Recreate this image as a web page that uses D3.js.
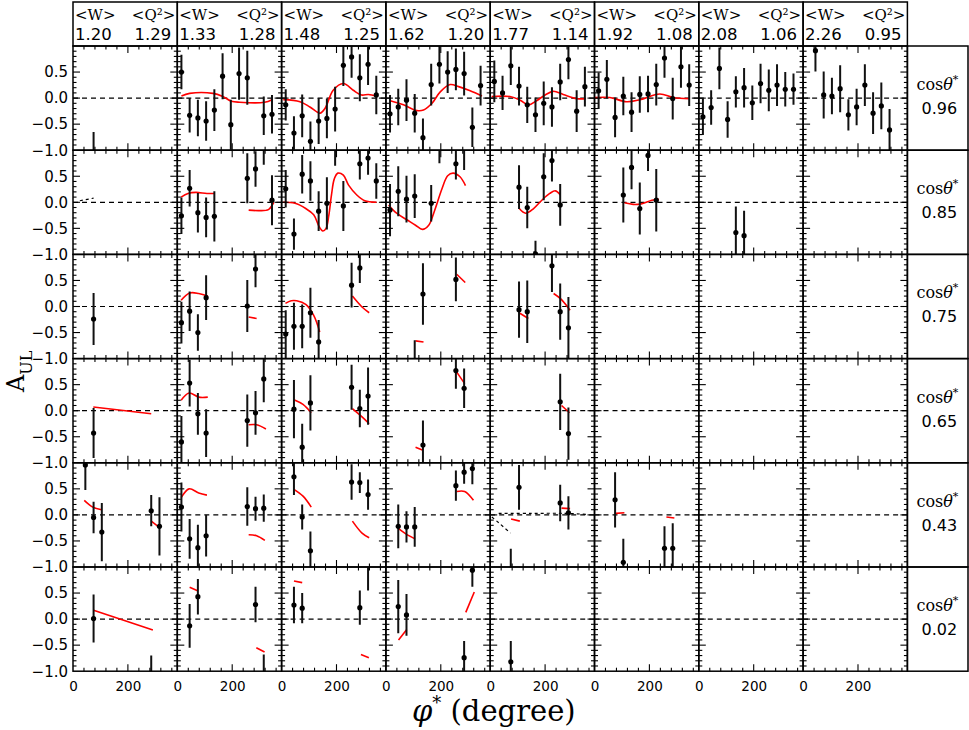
<!DOCTYPE html>
<html lang="en">
<head>
<meta charset="UTF-8">
<title>A_UL vs phi*</title>
<script src="https://d3js.org/d3.v7.min.js"></script>
<style>
  body { margin: 0; background: #fff; }
  text { fill: #000; }
</style>
</head>
<body>
<svg id="chart" width="969" height="730"></svg>
<script>
// kinematic bins (header / right column)
const W = [1.20, 1.33, 1.48, 1.62, 1.77, 1.92, 2.08, 2.26];
const Q2 = [1.29, 1.28, 1.25, 1.20, 1.14, 1.08, 1.06, 0.95];
const cosTheta = [0.96, 0.85, 0.75, 0.65, 0.43, 0.02];

const phiMinorTicks = [40, 80, 120, 160, 240, 280, 320, 360];
const phiMajorTicks = [200];
const phiLabels = [0, 200];
const aMajorTicks = [-0.5, 0, 0.5];
const aMinorTicks = [-0.9, -0.8, -0.7, -0.6, -0.4, -0.3, -0.2, -0.1, 0.1, 0.2, 0.3, 0.4, 0.6, 0.7, 0.8, 0.9];
const aLabels = [-1, -0.5, 0, 0.5];

// measured asymmetry: per column, [phi, A_UL, error]
const aul096 = [
  [[75, -1.15, 0.5]],
  [[15, 0.50, 0.33], [45, -0.33, 0.33], [75, -0.38, 0.35], [105, -0.44, 0.38], [135, -0.23, 0.4], [165, 0.42, 0.44], [195, -0.51, 0.48], [225, 0.47, 0.5], [255, 0.39, 0.52], [315, -0.34, 0.37], [345, -0.31, 0.37]],
  [[15, -0.13, 0.3], [45, -0.67, 0.32], [75, -0.34, 0.41], [105, -0.83, 0.38], [135, -0.44, 0.44], [165, -0.39, 0.38], [195, -0.21, 0.43], [225, 0.63, 0.4], [255, 0.79, 0.4], [285, 0.39, 0.45], [315, 0.65, 0.4], [345, 0.06, 0.37]],
  [[15, -0.30, 0.36], [45, -0.17, 0.35], [75, -0.04, 0.4], [105, -0.29, 0.37], [135, -0.76, 0.37], [165, 0.26, 0.4], [195, 0.65, 0.37], [225, 0.50, 0.4], [255, 0.55, 0.4], [285, 0.47, 0.42], [315, -0.56, 0.38], [345, 0.24, 0.38]],
  [[15, 0.32, 0.4], [45, 0.10, 0.33], [75, 0.62, 0.37], [105, 0.23, 0.37], [135, -0.13, 0.35], [165, -0.32, 0.33], [195, -0.10, 0.42], [225, -0.17, 0.38], [255, 0.31, 0.35], [285, 0.74, 0.38], [315, -0.25, 0.4], [345, 0.22, 0.38]],
  [[15, 0.14, 0.35], [45, 0.36, 0.37], [75, -0.37, 0.38], [105, 0.04, 0.37], [135, -0.27, 0.38], [165, 0.07, 0.35], [195, 0.08, 0.35], [225, 0.26, 0.4], [255, 0.77, 0.38], [285, -0.01, 0.4], [315, 0.60, 0.4], [345, 0.25, 0.4]],
  [[15, -0.36, 0.35], [45, -0.18, 0.33], [75, 0.57, 0.4], [105, -0.41, 0.35], [135, 0.12, 0.3], [165, 0.20, 0.38], [195, -0.09, 0.33], [225, 0.28, 0.38], [255, 0.15, 0.4], [285, 0.25, 0.4], [315, 0.17, 0.33], [345, 0.17, 0.3]],
  [[45, 0.91, 0.4], [75, 0.06, 0.45], [105, 0.04, 0.35], [135, 0.18, 0.45], [165, -0.32, 0.3], [195, -0.17, 0.35], [225, 0.25, 0.4], [255, -0.29, 0.4], [285, -0.15, 0.45], [315, -0.61, 0.4]]
];
const aul085 = [
  [],
  [[15, -0.26, 0.35], [45, 0.27, 0.35], [75, -0.20, 0.38], [105, -0.29, 0.38], [135, -0.27, 0.48], [255, 0.46, 0.48], [285, 0.64, 0.34], [315, 1.10, 0.38], [345, 0.04, 0.48]],
  [[15, 0.26, 0.36], [45, -0.61, 0.3], [75, 0.54, 0.37], [105, 0.41, 0.38], [135, -0.17, 0.38], [165, -0.02, 0.5], [195, 1.05, 0.35], [225, -0.07, 0.48], [285, 0.74, 0.3], [315, 0.85, 0.32], [345, 0.41, 0.34]],
  [[15, -0.15, 0.5], [45, 0.21, 0.48], [75, 0.06, 0.45], [105, 0.12, 0.42], [165, -0.02, 0.35], [195, 1.15, 0.4], [255, 0.74, 0.3], [285, 1.05, 0.43]],
  [[105, 0.29, 0.42], [135, -0.10, 0.4], [165, -0.99, 0.25], [195, 0.49, 0.45], [225, 0.80, 0.4], [255, -0.05, 0.4]],
  [[105, 0.14, 0.53], [135, 0.67, 0.42], [165, -0.12, 0.5], [195, 0.90, 0.3], [225, 0.04, 0.6]],
  [[135, -0.58, 0.5], [165, -0.64, 0.48]],
  []
];
const aul075 = [
  [[75, -0.24, 0.5]],
  [[15, -0.31, 0.4], [45, -0.09, 0.38], [75, -0.50, 0.35], [105, 0.17, 0.43], [255, 0.01, 0.5], [285, 0.72, 0.35]],
  [[15, -0.53, 0.46], [45, -0.38, 0.45], [75, -0.38, 0.42], [105, -0.12, 0.48], [135, -0.68, 0.42], [255, 0.41, 0.43], [285, 0.74, 0.29]],
  [[105, -1.2, 0.55], [135, 0.24, 0.59], [255, 0.52, 0.42]],
  [[105, -0.06, 0.54], [135, -0.10, 0.6], [225, 0.78, 0.5], [255, -0.10, 0.54], [285, -0.41, 0.59]],
  [], [], []
];
const aul065 = [
  [[75, -0.43, 0.48]],
  [[15, -0.60, 0.5], [45, 0.53, 0.45], [75, -0.06, 0.4], [105, -0.43, 0.46], [255, -0.19, 0.5], [285, -0.04, 0.42], [315, 0.61, 0.45]],
  [[45, 0.03, 0.56], [75, -0.70, 0.45], [105, 0.15, 0.53], [255, 0.45, 0.43], [285, 0.04, 0.36], [315, 0.28, 0.55]],
  [[135, -0.66, 0.47], [255, 0.77, 0.35], [285, 0.43, 0.38]],
  [[255, 0.17, 0.54], [285, -0.44, 0.5]],
  [], [], []
];
const aul043 = [
  [[45, 0.96, 0.48], [75, -0.05, 0.3], [105, -0.33, 0.56], [285, 0.08, 0.3], [315, -0.22, 0.56]],
  [[15, 0.15, 0.47], [45, -0.46, 0.38], [75, -0.63, 0.44], [105, -0.40, 0.4], [255, 0.16, 0.37], [285, 0.12, 0.23], [315, 0.13, 0.26]],
  [[45, 0.73, 0.35], [75, -0.04, 0.24], [105, -0.69, 0.37], [255, 0.63, 0.34], [285, 0.62, 0.2], [315, 0.39, 0.29]],
  [[45, -0.22, 0.42], [75, -0.23, 0.3], [105, -0.23, 0.38], [255, 0.56, 0.29], [285, 0.82, 0.22], [315, 0.89, 0.3]],
  [[75, -1.1, 0.45], [105, 0.53, 0.43], [255, 0.23, 0.35], [285, 0.04, 0.32]],
  [[75, 0.29, 0.53], [105, -0.91, 0.45], [255, -0.64, 0.42], [285, -0.64, 0.48]],
  [], []
];
const aul002 = [
  [[75, 0.01, 0.46], [285, -1.2, 0.5]],
  [[45, -0.13, 0.42], [75, 0.43, 0.34], [285, 0.28, 0.34], [315, -1.15, 0.47]],
  [[45, 0.27, 0.35], [75, 0.21, 0.29], [285, 0.22, 0.33], [315, 1.1, 0.55]],
  [[45, 0.24, 0.51], [75, 0.08, 0.4], [285, -0.74, 0.32], [315, 0.94, 0.32]],
  [[75, -0.82, 0.4]],
  [], [], []
];

// model curves (red): per column, list of [phi, A] segments
const maid096 = [
  [],
  [[[15, 0.04], [45, 0.09], [130, 0.09], [166, 0.03], [197, -0.06], [227, -0.08], [318, -0.08], [345, -0.03]]],
  [[[6, -0.03], [67, -0.07], [103, -0.17], [140, -0.29], [158, -0.2], [188, 0.15], [225, 0.28], [261, 0.15], [291, 0.06], [316, 0.07], [346, 0.04]]],
  [[[16, -0.05], [64, -0.13], [113, -0.24], [137, -0.23], [168, -0.10], [198, 0.12], [234, 0.26], [265, 0.22], [307, 0.14], [350, 0.04]]],
  [[[5, 0.03], [72, 0.03], [109, -0.04], [139, -0.13], [169, -0.05], [200, 0.06], [230, 0.13], [266, 0.07], [315, -0.01], [349, -0.01]]],
  [[[2, 0.01], [56, 0.01], [117, -0.07], [166, -0.03], [238, 0.08], [287, 0.01], [345, -0.01]]],
  [], []
];
const maid085 = [
  [],
  [[[14, 0.10], [39, 0.17], [68, 0.19], [108, 0.17], [137, 0.17]], [[260, -0.15], [300, -0.16], [332, -0.14], [345, -0.06], [352, 0.0]]],
  [[[6, 0], [49, -0.02], [88, -0.12], [117, -0.24], [137, -0.47], [150, -0.55], [162, -0.50], [172, -0.25], [182, 0.15], [192, 0.45], [205, 0.56], [225, 0.52], [244, 0.33], [274, 0.14], [303, 0.03], [346, 0.0]]],
  [[[10, -0.05], [39, -0.21], [78, -0.34], [108, -0.44], [133, -0.52], [156, -0.44], [176, -0.18], [205, 0.27], [225, 0.51], [245, 0.56], [270, 0.49], [290, 0.32]]],
  [[[106, -0.12], [129, -0.21], [158, -0.12], [188, 0.04], [217, 0.17], [237, 0.22], [256, 0.14]]],
  [[[109, -0.01], [141, -0.04], [170, -0.03], [209, 0.04], [235, 0.06]]],
  [], []
];
const maid075 = [
  [],
  [[[14, 0.12], [45, 0.26], [78, 0.25], [111, 0.20]], [[260, -0.20], [289, -0.23]]],
  [[[14, 0.06], [35, 0.11], [55, 0.11], [88, 0.04], [117, -0.17], [139, -0.49]], [[258, 0.20], [293, -0.01], [319, -0.12]]],
  [[[108, -0.66], [137, -0.68]], [[258, 0.62], [289, 0.46]]],
  [[[108, -0.13], [139, -0.23]], [[231, 0.25], [256, 0.15], [291, -0.07]]],
  [], [], []
];
const maid065 = [
  [[[74, 0.07], [285, -0.06]]],
  [[[14, 0.2], [43, 0.34], [78, 0.26], [111, 0.26]], [[260, -0.27], [289, -0.27], [323, -0.35]]],
  [[[45, 0.21], [78, 0.12], [108, -0.04]], [[258, 0.04], [293, -0.12], [319, -0.25]]],
  [[[108, -0.70], [135, -0.76]], [[258, 0.74], [287, 0.52]]],
  [[[260, 0.10], [289, -0.04]]],
  [], [], []
];
const maid043 = [
  [[[41, 0.28], [72, 0.15], [104, 0.10]], [[285, -0.12], [317, -0.25]]],
  [[[14, 0.33], [43, 0.50], [78, 0.42], [108, 0.38]], [[260, -0.38], [289, -0.40], [319, -0.49]]],
  [[[45, 0.49], [78, 0.36], [108, 0.15]], [[258, -0.12], [293, -0.35], [319, -0.44]]],
  [[[45, -0.26], [74, -0.37], [106, -0.46]], [[258, 0.45], [287, 0.45], [319, 0.28]]],
  [[[76, -0.08], [108, -0.12]], [[260, 0.13], [291, 0.12]]],
  [[[78, 0.03], [109, 0.04]], [[262, -0.04], [291, -0.06]]],
  [], []
];
const maid002 = [
  [[[75, 0.17], [291, -0.21]]],
  [[[45, 0.61], [76, 0.54]], [[288, -0.55], [318, -0.63]]],
  [[[45, 0.73], [75, 0.70]], [[289, -0.68], [318, -0.74]]],
  [[[46, -0.40], [76, -0.20]], [[291, 0.13], [322, 0.52]]],
  [], [], [], []
];

// second model (black dashed), only a few panels
const alt085 = [[[[25, 0.03], [75, 0.08]]], [], [], [], [], [], [], []];
const alt043 = [[], [], [], [], [[[6, -0.04], [31, -0.15], [74, -0.35]], [[31, 0.03], [148, 0.03], [266, 0.03], [354, 0.01]]], [], [], []];

const rowsData = [aul096, aul085, aul075, aul065, aul043, aul002];
const rowsModel = [maid096, maid085, maid075, maid065, maid043, maid002];
const rowsAlt = [null, alt085, null, null, alt043, null];

const svg = d3.select("#chart");
const pLeft = 73, pTop = 46, cw = 104.3, ch = 104.2;
const nCol = W.length, nRow = cosTheta.length;
const pRight = pLeft + nCol * cw, pBottom = pTop + nRow * ch;

const x = d3.scaleLinear().domain([0, 380]).range([0, cw]);
const y = d3.scaleLinear().domain([-1, 1]).range([ch, 0]);
const line = d3.line().x(d => x(d[0])).y(d => y(d[1])).curve(d3.curveCatmullRom.alpha(0.5));

const minorLen = 3.5, majorLen = 7;

cosTheta.forEach((ct, r) => {
  W.forEach((w, c) => {
    const g = svg.append("g").attr("transform", `translate(${pLeft + c * cw},${pTop + r * ch})`);
    const id = `clip-${r}-${c}`;
    g.append("clipPath").attr("id", id).append("rect").attr("width", cw).attr("height", ch);
    const inner = g.append("g").attr("clip-path", `url(#${id})`);

    inner.append("line")
      .attr("x1", 0).attr("x2", cw).attr("y1", y(0)).attr("y2", y(0))
      .attr("stroke", "#000").attr("stroke-width", 1.2).attr("stroke-dasharray", "5,4");

    if (rowsAlt[r]) {
      inner.selectAll("path.alt").data(rowsAlt[r][c]).join("path")
        .attr("class", "alt").attr("d", line).attr("fill", "none")
        .attr("stroke", "#000").attr("stroke-width", 1.2).attr("stroke-dasharray", "3,3");
    }

    inner.selectAll("path.model").data(rowsModel[r][c]).join("path")
      .attr("class", "model").attr("d", line).attr("fill", "none")
      .attr("stroke", "#ff0000").attr("stroke-width", 1.6);

    const pts = rowsData[r][c];
    inner.selectAll("line.err").data(pts).join("line")
      .attr("class", "err")
      .attr("x1", d => x(d[0])).attr("x2", d => x(d[0]))
      .attr("y1", d => y(d[1] - d[2])).attr("y2", d => y(d[1] + d[2]))
      .attr("stroke", "#111").attr("stroke-width", 2);
    inner.selectAll("circle").data(pts).join("circle")
      .attr("cx", d => x(d[0])).attr("cy", d => y(d[1])).attr("r", 2.6).attr("fill", "#000");

    // inward ticks on all four sides
    const tk = g.append("g").attr("stroke", "#000").attr("stroke-width", 1.1);
    const yTicks = aMinorTicks.map(v => [v, minorLen]).concat(aMajorTicks.map(v => [v, majorLen]));
    yTicks.forEach(([v, len]) => {
      tk.append("line").attr("x1", 0).attr("x2", len).attr("y1", y(v)).attr("y2", y(v));
      tk.append("line").attr("x1", cw).attr("x2", cw - len).attr("y1", y(v)).attr("y2", y(v));
    });
    const xTicks = phiMinorTicks.map(v => [v, minorLen]).concat(phiMajorTicks.map(v => [v, majorLen]));
    xTicks.forEach(([v, len]) => {
      tk.append("line").attr("x1", x(v)).attr("x2", x(v)).attr("y1", 0).attr("y2", len);
      tk.append("line").attr("x1", x(v)).attr("x2", x(v)).attr("y1", ch).attr("y2", ch - len);
    });

    g.append("rect").attr("width", cw).attr("height", ch)
      .attr("fill", "none").attr("stroke", "#000").attr("stroke-width", 1.5);
  });

  // y tick labels
  const ax = svg.append("g").attr("transform", `translate(${pLeft},${pTop + r * ch})`)
    .call(d3.axisLeft(y).tickValues(aLabels).tickFormat(d3.format(".1f")).tickSize(0).tickPadding(5));
  ax.select(".domain").remove();
  ax.selectAll("text").attr("font-family", "DejaVu Sans").attr("font-size", 15);

  // right label cell
  const rc = svg.append("g").attr("transform", `translate(${pRight},${pTop + r * ch})`);
  rc.append("rect").attr("width", 968 - pRight).attr("height", ch)
    .attr("fill", "none").attr("stroke", "#000").attr("stroke-width", 1.5);
  const t = rc.append("text").attr("x", 30).attr("y", 44).attr("text-anchor", "middle")
    .attr("font-family", "DejaVu Serif").attr("font-size", 16);
  t.append("tspan").text("cos");
  t.append("tspan").attr("font-style", "italic").text("θ");
  t.append("tspan").attr("font-size", 11).attr("dy", -7).text("*");
  rc.append("text").attr("x", 32).attr("y", 68).attr("text-anchor", "middle")
    .attr("font-family", "DejaVu Sans").attr("font-size", 16).text(ct.toFixed(2));
});

// x tick labels under bottom row
W.forEach((w, c) => {
  const ax = svg.append("g").attr("transform", `translate(${pLeft + c * cw},${pBottom})`)
    .call(d3.axisBottom(x).tickValues(phiLabels).tickFormat(d3.format("d")).tickSize(0).tickPadding(10));
  ax.select(".domain").remove();
  ax.selectAll("text").attr("font-family", "DejaVu Sans").attr("font-size", 13.5);
});

// header cells with <W> and <Q^2>
W.forEach((w, c) => {
  const h = svg.append("g").attr("transform", `translate(${pLeft + c * cw},2)`);
  h.append("rect").attr("width", cw).attr("height", pTop - 2)
    .attr("fill", "none").attr("stroke", "#000").attr("stroke-width", 1.5);
  h.append("text").attr("x", 2).attr("y", 18).attr("font-family", "DejaVu Serif").attr("font-size", 15).text("<W>");
  h.append("text").attr("x", cw - 2).attr("y", 18).attr("text-anchor", "end")
    .attr("font-family", "DejaVu Serif").attr("font-size", 15).text("<Q²>");
  h.append("text").attr("x", 2).attr("y", 38).attr("font-family", "DejaVu Sans").attr("font-size", 16.5).text(w.toFixed(2));
  h.append("text").attr("x", cw - 6).attr("y", 38).attr("text-anchor", "end")
    .attr("font-family", "DejaVu Sans").attr("font-size", 16.5).text(Q2[c].toFixed(2));
});

// axis titles
const yt = svg.append("text").attr("transform", "translate(24,392) rotate(-90)")
  .attr("font-family", "DejaVu Serif").attr("font-size", 24);
yt.append("tspan").text("A");
yt.append("tspan").attr("font-size", 16).attr("dy", 8).text("UL");

const xt = svg.append("text").attr("x", 412).attr("y", 721)
  .attr("font-family", "DejaVu Serif").attr("font-size", 29);
xt.append("tspan").attr("font-style", "italic").text("φ");
xt.append("tspan").attr("font-size", 18).attr("dy", -12).text("*");
xt.append("tspan").attr("dy", 12).text(" (degree)");
</script>
</body>
</html>
